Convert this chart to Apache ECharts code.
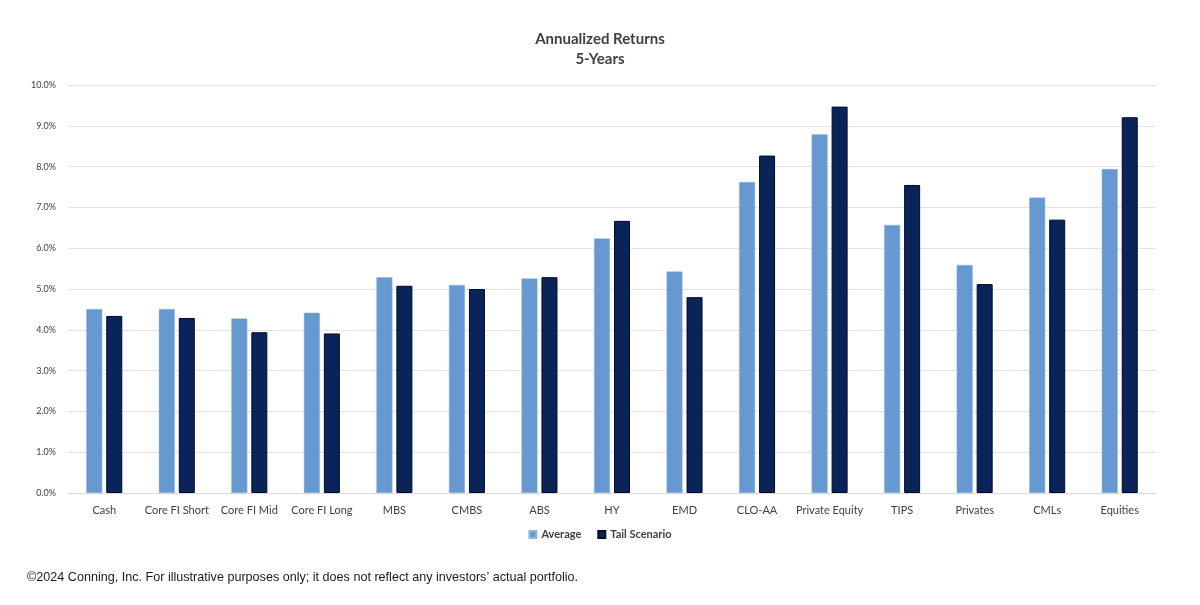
<!DOCTYPE html>
<html>
<head>
<meta charset="utf-8">
<script src="https://cdn.jsdelivr.net/npm/echarts@6/dist/echarts.min.js"></script>
<style>
html,body{margin:0;padding:0;background:#fff;}
#chart{width:1200px;height:605px;}
</style>
</head>
<body>
<div id="chart"></div>
<script>
const categories = ['Cash','Core FI Short','Core FI Mid','Core FI Long','MBS','CMBS','ABS','HY','EMD','CLO-AA','Private Equity','TIPS','Privates','CMLs','Equities'];
const averageValues = [4.51, 4.51, 4.28, 4.42, 5.29, 5.10, 5.26, 6.24, 5.43, 7.62, 8.79, 6.57, 5.59, 7.24, 7.94];
const tailValues = [4.34, 4.29, 3.94, 3.91, 5.08, 5.00, 5.29, 6.67, 4.80, 8.27, 9.47, 7.55, 5.12, 6.70, 9.21];
const seriesNames = ['Average', 'Tail Scenario'];
const titleText = 'Annualized Returns\n5-Years';
const footerText = '\u00A92024 Conning, Inc. For illustrative purposes only; it does not reflect any investors\u2019 actual portfolio.';

const chart = echarts.init(document.getElementById('chart'));
chart.setOption({
  backgroundColor: '#ffffff',
  animation: false,
  title: {
    text: titleText,
    left: 'center',
    top: 24,
    textStyle: { fontFamily: 'Lato', fontSize: 15, fontWeight: 'bold', color: '#404040', lineHeight: 20 }
  },
  legend: {
    data: seriesNames,
    top: 524,
    left: 'center',
    itemWidth: 7,
    itemHeight: 7,
    itemGap: 16,
    icon: 'rect',
    textStyle: { fontFamily: 'Lato', fontSize: 11, fontWeight: 'bold', color: '#404040' }
  },
  grid: { left: 68, right: 44, top: 85, bottom: 112, containLabel: false },
  xAxis: {
    type: 'category',
    data: categories,
    axisLine: { show: true, lineStyle: { color: '#d9d9d9' } },
    axisTick: { show: false },
    axisLabel: { fontFamily: 'Lato', fontSize: 11, color: '#404040', margin: 12, interval: 0 }
  },
  yAxis: {
    type: 'value',
    min: 0,
    max: 10,
    interval: 1,
    axisLine: { show: false },
    axisTick: { show: false },
    axisLabel: { fontFamily: 'Lato', fontSize: 9, color: '#404040', margin: 12, formatter: v => v.toFixed(1) + '%' },
    splitLine: { lineStyle: { color: '#e3e3e3', width: 1 } }
  },
  series: [
    {
      name: seriesNames[0],
      type: 'bar',
      data: averageValues,
      barWidth: 16,
      barGap: '25%',
      itemStyle: { color: '#6699cf', borderColor: '#8fb6e0', borderWidth: 0.5 }
    },
    {
      name: seriesNames[1],
      type: 'bar',
      data: tailValues,
      barWidth: 16,
      itemStyle: { color: '#0a2359', borderColor: '#000a26', borderWidth: 1 }
    }
  ],
  graphic: [
    {
      type: 'text',
      left: 27,
      top: 571,
      style: { text: footerText, fontFamily: 'Liberation Sans', fontSize: 12.6, fill: '#1a1a1a' }
    }
  ]
});
</script>
</body>
</html>
